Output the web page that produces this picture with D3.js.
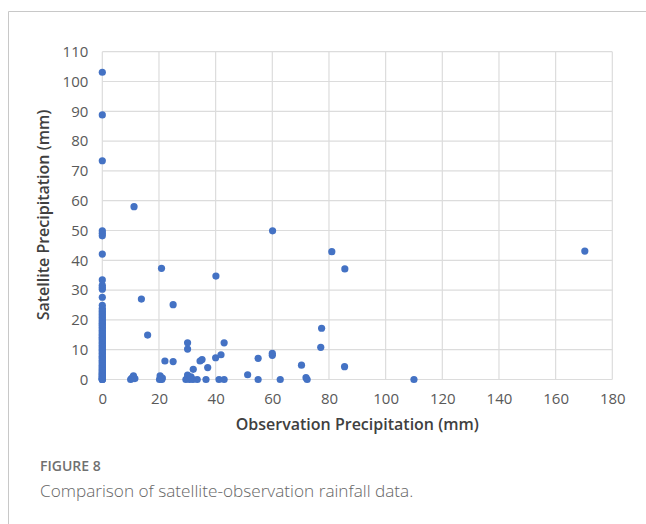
<!DOCTYPE html>
<html>
<head>
<meta charset="utf-8">
<script src="https://cdn.jsdelivr.net/npm/d3@7"></script>
<style>
  html, body { margin: 0; padding: 0; background: #fff; }
  svg { display: block; }
</style>
</head>
<body>
<svg id="chart" width="646" height="524"></svg>
<script>
// Observation precipitation (mm) – x values
const obsX = [
  0,0,0,0,0,0,0,0,0,0,0,0,0,0,0,0,0,0,0,0,0,0,0,0,0,0,0,0,0,0,
  0,0,0,0,0,0,0,0,0,0,0,0,0,0,0,0,0,0,0,0,0,0,0,0,0,0,0,0,0,0,
  0,0,0,0,0,0,0,0,0,0,0,0,0,0,
  10,10.3,10.7,11,11.5,11.2,13.8,16.0,
  20.2,20.4,20.7,21,21.2,20.9,22.1,25,25,
  29.5,30,30.1,30.1,30.1,30.8,31.3,32.1,32,33.5,34.5,35.2,36.6,37.2,
  40.0,40.1,41.2,41.9,43,43,51.3,55,55,60,60,60.1,62.8,
  70.3,71.9,72.3,77.1,77.4,81,85.6,85.5,110,170.3
];
// Satellite precipitation (mm) – y values
const satY = [
  0,0,0,0.2,0.4,0.5,0.8,1,1.2,1.5,1.8,2,2.3,2.6,3,3.3,3.6,4,4.4,4.8,
  5.2,5.6,6,6.5,7,7.4,7.8,8.3,8.8,9.2,9.7,10.1,10.6,11,11.5,12,12.4,12.9,13.3,13.8,
  14.2,14.7,15.1,15.6,16,16.5,17,17.5,18,18.4,18.9,19.3,19.8,20.3,20.8,21.3,21.8,22.3,22.8,23.3,
  23.9,24.9,27.6,30.3,30.9,31.6,33.4,42.1,48.2,49.1,49.9,73.4,88.8,103.1,
  0,0.3,0.6,1.2,0.3,58.0,27.0,14.9,
  0,1.2,0.2,0,0.5,37.3,6.2,25.1,6.0,
  0,0.5,1.5,10.2,12.3,0,0.9,3.4,0,0,6.2,6.7,0,4.0,
  7.3,34.7,0,8.3,12.3,0,1.6,7.1,0,8.1,8.8,49.9,0,
  4.8,0.6,0,10.8,17.2,42.9,37.1,4.3,0,43.1
];
const xTicks = [0,20,40,60,80,100,120,140,160,180];
const yTicks = [0,10,20,30,40,50,60,70,80,90,100,110];
const xTitle = "Observation Precipitation (mm)";
const yTitle = "Satellite Precipitation (mm)";
const figLabel = "FIGURE 8";
const caption = "Comparison of satellite-observation rainfall data.";

(function () {
const points = obsX.map((x, i) => ({x, y: satY[i]}));

const svg = d3.select("#chart");
const pLeft = 102.3, pRight = 612.3, pTop = 51.7, pBottom = 379.5;

// panel frame
svg.append("path")
  .attr("d", "M8.5,524 L8.5,11.5 L646,11.5")
  .attr("fill", "none").attr("stroke", "#c8c8c8").attr("stroke-width", 1);

const x = d3.scaleLinear().domain([0, 180]).range([pLeft, pRight]);
const y = d3.scaleLinear().domain([0, 110]).range([pBottom, pTop]);

// grid
const grid = svg.append("g");
grid.selectAll(".vg").data(xTicks).join("line")
  .attr("x1", d => x(d)).attr("x2", d => x(d))
  .attr("y1", pTop).attr("y2", pBottom)
  .attr("stroke", "#dcdcdc").attr("stroke-width", 1.2);
grid.selectAll(".hg").data(yTicks).join("line")
  .attr("y1", d => y(d)).attr("y2", d => y(d))
  .attr("x1", pLeft).attr("x2", pRight)
  .attr("stroke", "#dcdcdc").attr("stroke-width", 1.2);

const tickFont = "'Open Sans', Lato, sans-serif";

// axes via d3
const xAxis = svg.append("g").attr("transform", `translate(0,${pBottom})`)
  .call(d3.axisBottom(x).tickValues(xTicks).tickSize(0).tickPadding(14));
const yAxis = svg.append("g").attr("transform", `translate(${pLeft},0)`)
  .call(d3.axisLeft(y).tickValues(yTicks).tickSize(0).tickPadding(14));
[xAxis, yAxis].forEach(a => {
  a.select(".domain").remove();
  a.selectAll("text").attr("font-family", tickFont).attr("font-size", 15)
    .attr("fill", "#595959");
});

// points
svg.append("g").selectAll("circle").data(points).join("circle")
  .attr("cx", d => x(d.x)).attr("cy", d => y(d.y)).attr("r", 3.6)
  .attr("fill", "#4472C4");

// titles
svg.append("text").attr("x", (pLeft + pRight) / 2).attr("y", 430)
  .attr("text-anchor", "middle").attr("font-family", tickFont)
  .attr("font-weight", 600).attr("font-size", 16).attr("fill", "#404040")
  .text(xTitle);
svg.append("text").attr("transform", "translate(49,215) rotate(-90)")
  .attr("text-anchor", "middle").attr("font-family", tickFont)
  .attr("font-weight", 600).attr("font-size", 16).attr("fill", "#404040")
  .text(yTitle);

// caption
svg.append("text").attr("x", 40).attr("y", 471)
  .attr("font-family", tickFont).attr("font-size", 14).attr("font-weight", 600)
  .attr("fill", "#707070").text(figLabel);
svg.append("text").attr("x", 40).attr("y", 497)
  .attr("font-family", tickFont).attr("font-size", 17.2).attr("font-weight", 300)
  .attr("fill", "#666").text(caption);
})();
</script>
</body>
</html>
